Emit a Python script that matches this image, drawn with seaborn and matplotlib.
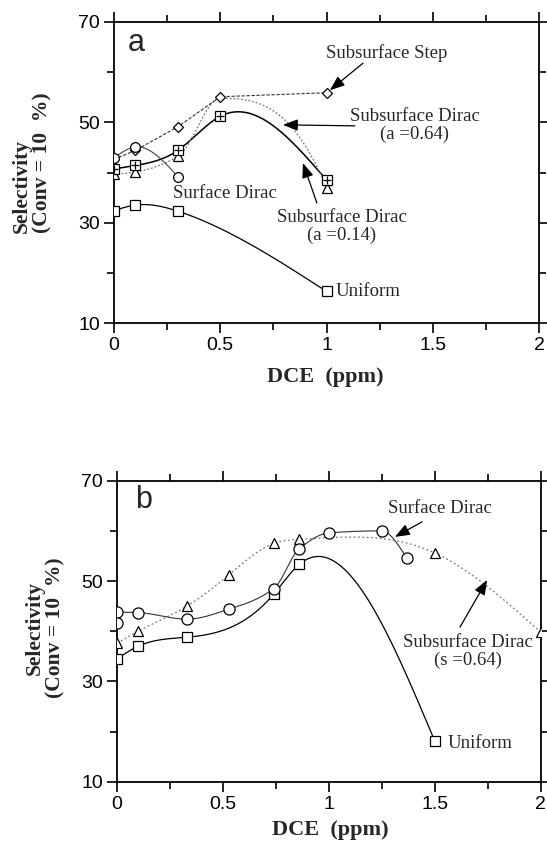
import numpy as np
import pandas as pd
import matplotlib
matplotlib.use("Agg")
import matplotlib.pyplot as plt
import seaborn as sns
from matplotlib.ticker import MultipleLocator

# ---------------- data ----------------
# Panel a
a_uniform_x = [0, 0.1, 0.3, 1.0]
a_uniform_y = [32.4, 33.5, 32.3, 16.3]
a_dirac014_x = [0, 0.1, 0.3, 0.5, 1.0]
a_dirac014_y = [40.7, 41.4, 44.4, 51.2, 38.5]
a_dirac064_x = [0, 0.1, 0.3, 0.5, 1.0]
a_dirac064_y = [39.7, 40.1, 43.2, 54.8, 36.9]
a_step_x = [0, 0.1, 0.3, 0.5, 1.0]
a_step_y = [42.6, 44.4, 49.1, 55.1, 55.9]
a_surf_x = [0, 0.1, 0.3]
a_surf_y = [42.9, 45.1, 39.2]

# Panel b
b_surf_x = [0, 0.1, 0.33, 0.53, 0.74, 0.86, 1.0, 1.25, 1.37]
b_surf_y = [43.8, 43.7, 42.4, 44.4, 48.5, 56.4, 59.6, 60.0, 54.5]
b_surf_rep_x = [0]
b_surf_rep_y = [41.6]
b_sub_x = [0, 0.1, 0.33, 0.53, 0.74, 0.86, 1.5, 2.0]
b_sub_y = [37.6, 40.0, 45.0, 51.3, 57.5, 58.3, 55.6, 39.8]
b_uniform_x = [0, 0.1, 0.33, 0.74, 0.86, 1.5]
b_uniform_y = [34.5, 37.0, 38.8, 47.4, 53.3, 18.1]

x_ticks = [0, 0.5, 1, 1.5, 2]
x_tick_labels = ["0", "0.5", "1", "1.5", "2"]
y_ticks = [10, 30, 50, 70]
y_tick_labels = ["10", "30", "50", "70"]


def natural_spline(x, y, n=300):
    x = np.asarray(x, float)
    y = np.asarray(y, float)
    m = len(x)
    h = np.diff(x)
    A = np.zeros((m, m))
    r = np.zeros(m)
    A[0, 0] = 1
    A[-1, -1] = 1
    for i in range(1, m - 1):
        A[i, i - 1] = h[i - 1]
        A[i, i] = 2 * (h[i - 1] + h[i])
        A[i, i + 1] = h[i]
        r[i] = 3 * ((y[i + 1] - y[i]) / h[i] - (y[i] - y[i - 1]) / h[i - 1])
    c = np.linalg.solve(A, r)
    b = (y[1:] - y[:-1]) / h - h * (2 * c[:-1] + c[1:]) / 3
    d = (c[1:] - c[:-1]) / (3 * h)
    xs = np.linspace(x[0], x[-1], n)
    idx = np.clip(np.searchsorted(x, xs, side="right") - 1, 0, m - 2)
    t = xs - x[idx]
    ys = y[idx] + b[idx] * t + c[idx] * t ** 2 + d[idx] * t ** 3
    return xs, ys


def pchip(x, y, n=300):
    x = np.asarray(x, float)
    y = np.asarray(y, float)
    m = len(x)
    h = np.diff(x)
    delta = np.diff(y) / h
    d = np.zeros(m)
    for k in range(1, m - 1):
        if delta[k - 1] * delta[k] > 0:
            w1 = 2 * h[k] + h[k - 1]
            w2 = h[k] + 2 * h[k - 1]
            d[k] = (w1 + w2) / (w1 / delta[k - 1] + w2 / delta[k])
    def end(h0, h1, d0, d1):
        v = ((2 * h0 + h1) * d0 - h0 * d1) / (h0 + h1)
        if np.sign(v) != np.sign(d0):
            v = 0.0
        elif np.sign(d0) != np.sign(d1) and abs(v) > abs(3 * d0):
            v = 3 * d0
        return v
    d[0] = end(h[0], h[1], delta[0], delta[1])
    d[-1] = end(h[-1], h[-2], delta[-1], delta[-2])
    xs = np.linspace(x[0], x[-1], n)
    idx = np.clip(np.searchsorted(x, xs, side="right") - 1, 0, m - 2)
    t = (xs - x[idx]) / h[idx]
    h00 = 2 * t ** 3 - 3 * t ** 2 + 1
    h10 = t ** 3 - 2 * t ** 2 + t
    h01 = -2 * t ** 3 + 3 * t ** 2
    h11 = t ** 3 - t ** 2
    ys = (h00 * y[idx] + h10 * h[idx] * d[idx] + h01 * y[idx + 1]
          + h11 * h[idx] * d[idx + 1])
    return xs, ys


def curve(ax, x, y, method="spline", **kw):
    if method == "spline":
        xs, ys = natural_spline(x, y)
    elif method == "pchip":
        xs, ys = pchip(x, y)
    else:
        xs, ys = np.asarray(x, float), np.asarray(y, float)
    df = pd.DataFrame({"x": xs, "y": ys})
    sns.lineplot(data=df, x="x", y="y", ax=ax, sort=False, estimator=None, **kw)


def markers(ax, x, y, marker, size=7, plus=False, lw=0.9):
    ax.plot(x, y, linestyle="none", marker=marker, markersize=size,
            markerfacecolor="white", markeredgecolor="black", markeredgewidth=lw, zorder=5)
    if plus:
        ax.plot(x, y, linestyle="none", marker="+", markersize=size * 0.95,
                markeredgecolor="black", markeredgewidth=lw, zorder=6)


sns.set_style("ticks")
plt.rcParams["font.family"] = ["Liberation Sans", "DejaVu Sans"]

SERIF = ["Liberation Serif", "DejaVu Serif"]
SANS = ["Liberation Sans", "DejaVu Sans"]

fig = plt.figure(figsize=(5.47, 8.41), dpi=100)
axa = fig.add_axes([114 / 547, 1 - 323 / 841, 425 / 547, 301 / 841])
axb = fig.add_axes([117 / 547, 1 - 781.7 / 841, 423.7 / 547, 301 / 841])

# ---------------- panel a ----------------
curve(axa, a_uniform_x, a_uniform_y, color="black", linewidth=0.9)
curve(axa, a_dirac014_x, a_dirac014_y, color="black", linewidth=1.1)
curve(axa, a_dirac064_x, a_dirac064_y, method="pchip", color="#777777", linewidth=0.9,
      linestyle=(0, (1.5, 1.5)))
curve(axa, a_step_x, a_step_y, method="linear", color="#333333", linewidth=0.8,
      linestyle=(0, (3, 1.5)))
curve(axa, a_surf_x, a_surf_y, color="#444444", linewidth=0.8)

markers(axa, a_uniform_x, a_uniform_y, "s", size=6.5)
markers(axa, a_dirac064_x[:3] + a_dirac064_x[4:], a_dirac064_y[:3] + a_dirac064_y[4:], "^", size=6.5)
markers(axa, a_dirac014_x, a_dirac014_y, "s", size=6.5, plus=True)
markers(axa, a_step_x, a_step_y, "D", size=5.5)
markers(axa, a_surf_x, a_surf_y, "o", size=7)

arrow = dict(arrowstyle="-|>,head_length=0.9,head_width=0.35", color="black", lw=0.9,
             shrinkA=0, shrinkB=0)

axa.text(0.066, 65.8, "a", fontsize=22, family=SANS, ha="left", va="center")
axa.text(1.285, 63.8, "Subsurface Step", fontsize=13.5, family=SERIF, ha="center", va="center")
axa.annotate("", xy=(1.016, 56.4), xytext=(1.172, 61.8), arrowprops=arrow)
axa.text(1.416, 49.3, "Subsurface Dirac\n(a =0.64)", fontsize=13.5, family=SERIF,
         ha="center", va="center", linespacing=1.05)
axa.annotate("", xy=(0.795, 49.5), xytext=(1.134, 49.3), arrowprops=arrow)
axa.text(0.278, 35.9, "Surface Dirac", fontsize=13.5, family=SERIF, ha="left", va="center")
axa.text(1.073, 29.3, "Subsurface Dirac\n(a =0.14)", fontsize=13.5, family=SERIF,
         ha="center", va="center", linespacing=1.05)
axa.annotate("", xy=(0.889, 41.9), xytext=(0.955, 33.9), arrowprops=arrow)
axa.text(1.045, 16.2, "Uniform", fontsize=13.5, family=SERIF, ha="left", va="center")

# ---------------- panel b ----------------
curve(axb, b_uniform_x, b_uniform_y, color="black", linewidth=0.9)
curve(axb, b_sub_x, b_sub_y, color="#777777", linewidth=0.9, linestyle=(0, (1.5, 2)))
curve(axb, b_surf_x, b_surf_y, method="pchip", color="#333333", linewidth=0.8)

markers(axb, b_uniform_x, b_uniform_y, "s", size=7)
markers(axb, b_sub_x, b_sub_y, "^", size=7)
markers(axb, b_surf_x, b_surf_y, "o", size=8)
markers(axb, b_surf_rep_x, b_surf_rep_y, "o", size=8)

axb.text(0.085, 66.2, "b", fontsize=22, family=SANS, ha="left", va="center")
axb.text(1.525, 64.4, "Surface Dirac", fontsize=13.5, family=SERIF, ha="center", va="center")
axb.annotate("", xy=(1.312, 58.8), xytext=(1.44, 61.8), arrowprops=arrow)
axb.text(1.657, 36.05, "Subsurface Dirac\n(s =0.64)", fontsize=13.5, family=SERIF,
         ha="center", va="center", linespacing=1.05)
axb.annotate("", xy=(1.747, 50.2), xytext=(1.619, 40.8), arrowprops=arrow)
axb.text(1.562, 17.7, "Uniform", fontsize=13.5, family=SERIF, ha="left", va="center")

for ax in (axa, axb):
    ax.set_xlim(0, 2)
    ax.set_ylim(10, 70)
    ax.set_xticks(x_ticks)
    ax.set_xticklabels(x_tick_labels)
    ax.set_yticks(y_ticks)
    ax.set_yticklabels(y_tick_labels)
    ax.xaxis.set_minor_locator(MultipleLocator(0.25))
    ax.yaxis.set_minor_locator(MultipleLocator(10))
    ax.tick_params(which="both", direction="out", top=True, right=True,
                   labelsize=14, width=1.2, colors="black", pad=3)
    ax.tick_params(which="major", length=7)
    ax.tick_params(which="minor", length=5)
    for s in ax.spines.values():
        s.set_visible(True)
        s.set_linewidth(1.3)
        s.set_color("black")
    ax.set_xlabel("")
    ax.set_ylabel("")

# ---------------- axis labels ----------------
fig.text(325 / 547, 1 - 377 / 841, "DCE  (ppm)", fontsize=16, family=SERIF,
         fontweight="bold", ha="center", va="center")
fig.text(330 / 547, 1 - 830 / 841, "DCE  (ppm)", fontsize=16, family=SERIF,
         fontweight="bold", ha="center", va="center")
fig.text(32 / 547, 1 - 233 / 841, "Selectivity\n(Conv = 10  %)", fontsize=15.5, family=SERIF,
         fontweight="bold", rotation=90, ha="center", va="bottom", multialignment="left",
         linespacing=1.0)
fig.text(45 / 547, 1 - 628 / 841, "Selectivity\n(Conv = 10  %)", fontsize=15.5, family=SERIF,
         fontweight="bold", rotation=90, ha="center", va="center", multialignment="center",
         linespacing=1.0)

fig.savefig("out.png", dpi=100)
